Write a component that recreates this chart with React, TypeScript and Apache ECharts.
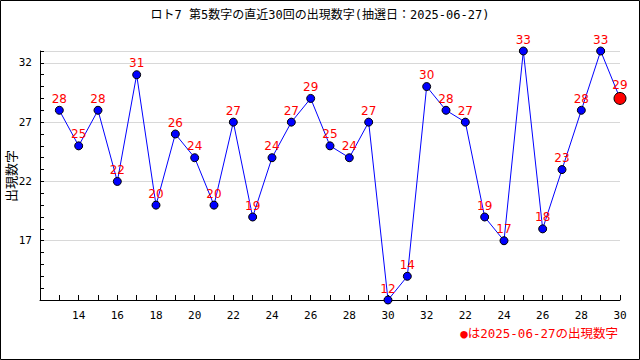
import React, { useEffect, useRef } from "react";
import * as echarts from "echarts";

const TITLE = "ロト7 第5数字の直近30回の出現数字(抽選日：2025-06-27)";
const Y_NAME = "出現数字";
const NOTE = "●は2025-06-27の出現数字";
// category labels (first is an empty slot before the first draw)
const categories = [
  "12", "13", "14", "15", "16", "17", "18", "19", "20", "21", "22", "23", "24", "25", "26",
  "27", "28", "29", "30", "31", "32", "21", "22", "23", "24", "25", "26", "27", "28", "29", "30",
];
const values = [
  28, 25, 28, 22, 31, 20, 26, 24, 20, 27, 19, 24, 27, 29, 25, 24, 27, 12, 14, 30, 28, 27, 19, 17, 33,
  18, 23, 28, 33, 29,
];
const Y_MIN = 12;
const Y_MAX = 33;
const Y_INTERVAL = 5;

export default function App() {
  const ref = useRef<HTMLDivElement>(null);
  useEffect(() => {
    document.body.style.margin = "0";
    const chart = echarts.init(ref.current!, null, { renderer: "svg" });
    const font = "'DejaVu Sans Mono', 'Noto Sans CJK JP', monospace";
    const last = values.length - 1;
    const data: any[] = ["-"].concat(
      values.map((v, i) =>
        i === last
          ? {
              value: v,
              symbolSize: 12,
              itemStyle: { color: "#ff0000", borderColor: "#000", borderWidth: 1 },
            }
          : v
      ) as any
    );
    chart.setOption({
      animation: false,
      backgroundColor: "#fff",
      title: {
        text: TITLE,
        left: "center",
        top: 4,
        textStyle: { fontSize: 12, fontWeight: "normal", color: "#000", fontFamily: font },
      },
      grid: { left: 40, right: 20, top: 51, bottom: 60, containLabel: false, outerBoundsMode: "none" },
      xAxis: {
        type: "category",
        data: categories,
        boundaryGap: false,
        axisLine: { lineStyle: { color: "#000", width: 1 } },
        axisTick: { inside: true, interval: 0, length: 5, lineStyle: { color: "#000" } },
        axisLabel: {
          interval: (i: number) => i > 0 && i % 2 === 0,
          color: "#000",
          fontSize: 11,
          fontFamily: font,
          margin: 10,
        },
        splitLine: { show: false },
      },
      yAxis: {
        type: "value",
        min: Y_MIN,
        max: Y_MAX,
        interval: Y_INTERVAL,
        axisLine: { show: true, lineStyle: { color: "#000", width: 1 } },
        axisTick: { show: true, inside: true, length: 4, lineStyle: { color: "#000" } },
        minorTick: { show: true, splitNumber: 5, length: 4, lineStyle: { color: "#000" } },
        axisLabel: {
          showMinLabel: false,
          showMaxLabel: false,
          color: "#000",
          fontSize: 11,
          fontFamily: font,
          margin: 8,
        },
        splitLine: { show: true, lineStyle: { color: "#d8d8d8", width: 1 } },
      },
      series: [
        {
          type: "line",
          data,
          connectNulls: false,
          lineStyle: { color: "#0000ff", width: 1 },
          symbol: "circle",
          symbolSize: 8,
          itemStyle: { color: "#0000ff", borderColor: "#000", borderWidth: 1 },
          label: {
            show: true,
            position: "top",
            distance: 1,
            color: "#ff0000",
            fontSize: 12,
            fontFamily: "'DejaVu Sans', sans-serif",
          },
        },
      ],
      graphic: [
        {
          type: "rect",
          shape: { x: 0.5, y: 0.5, width: 639, height: 359 },
          style: { fill: "none", stroke: "#000", lineWidth: 1 },
          silent: true,
        },
        {
          type: "text",
          x: 11,
          y: 176,
          rotation: Math.PI / 2,
          style: {
            text: Y_NAME,
            fill: "#000",
            fontSize: 13,
            fontFamily: font,
            align: "center",
            verticalAlign: "middle",
          },
        },
        {
          type: "text",
          right: 22,
          top: 327,
          style: { text: NOTE, fill: "#ff0000", fontSize: 12.5, fontFamily: font },
        },
      ],
    });
    return () => chart.dispose();
  }, []);
  return <div ref={ref} style={{ width: 640, height: 360 }} />;
}
